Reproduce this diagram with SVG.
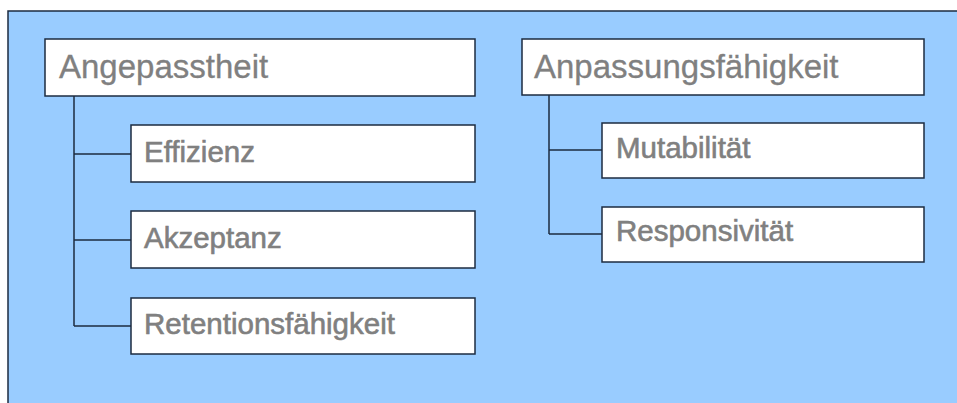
<svg xmlns="http://www.w3.org/2000/svg" width="957" height="403" viewBox="0 0 957 403">
<style>
.box{fill:#ffffff;stroke:#1c2b40;stroke-width:1.5}
.conn{fill:none;stroke:#1c2b40;stroke-width:1.5}
.t{font-family:"Liberation Sans",Arial,sans-serif;fill:#808080;stroke:#808080}
.root{font-size:33px;stroke-width:0.3}
.sub{font-size:29.5px;stroke-width:0.6}
</style>
<rect x="0" y="0" width="957" height="403" fill="#ffffff"/>
<g id="panel">
<rect x="8" y="11" width="949" height="392" fill="#99ccff"/>
<path d="M8,403 V11 H957" fill="none" stroke="#1c2b40" stroke-width="1.5"/>
</g>
<g id="connectors">
<path class="conn" d="M74,96 V326 M74,154 H131 M74,240 H131 M74,326 H131"/>
<path class="conn" d="M549,95 V234 M549,150 H602 M549,234 H602"/>
</g>
<g id="angepasstheit"><rect class="box" x="45" y="39" width="430" height="57"/><text class="t root" x="59" y="78">Angepasstheit</text></g>
<g id="effizienz"><rect class="box" x="131" y="125" width="344" height="57"/><text class="t sub" x="144" y="162">Effizienz</text></g>
<g id="akzeptanz"><rect class="box" x="131" y="211" width="344" height="57"/><text class="t sub" x="144" y="248">Akzeptanz</text></g>
<g id="retentionsfaehigkeit"><rect class="box" x="131" y="298" width="344" height="56"/><text class="t sub" x="144" y="334">Retentionsfähigkeit</text></g>
<g id="anpassungsfaehigkeit"><rect class="box" x="522" y="39" width="402" height="56"/><text class="t root" x="534" y="78">Anpassungsfähigkeit</text></g>
<g id="mutabilitaet"><rect class="box" x="602" y="123" width="322" height="55"/><text class="t sub" x="616" y="158">Mutabilität</text></g>
<g id="responsivitaet"><rect class="box" x="602" y="207" width="322" height="55"/><text class="t sub" x="616" y="241">Responsivität</text></g>
</svg>
